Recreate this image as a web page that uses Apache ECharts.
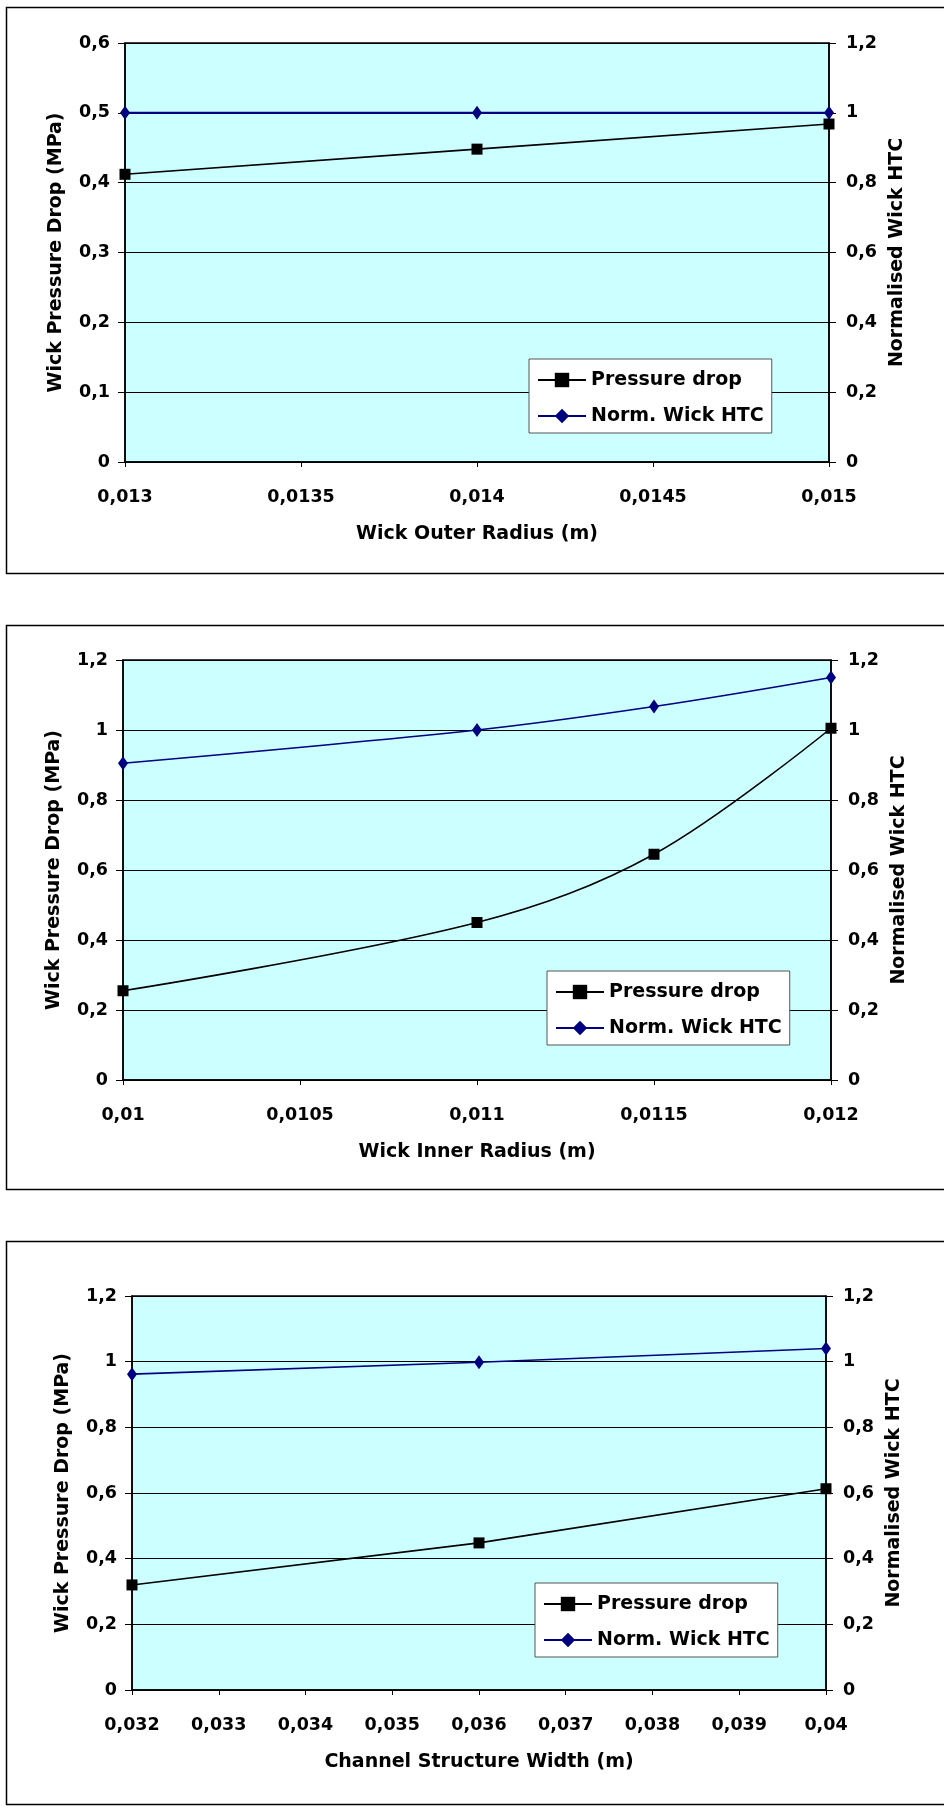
<!DOCTYPE html>
<html><head><meta charset="utf-8">
<script src="https://cdn.jsdelivr.net/npm/echarts@6/dist/echarts.min.js"></script>
<style>html,body{margin:0;padding:0;background:#fff}#c{width:944px;height:1809px}</style>
</head><body><div id="c"></div>
<script>
// ---- data ----
const outerRadius = [0.013, 0.014, 0.015];
const outerPressure = [0.412, 0.448, 0.484];
const outerHTC = [1.0, 1.0, 1.0];

const innerRadius = [0.010, 0.011, 0.0115, 0.012];
const innerPressure = [0.255, 0.450, 0.645, 1.005];
const innerHTC = [0.905, 1.0, 1.067, 1.15];

const channelWidth = [0.032, 0.036, 0.040];
const channelPressure = [0.320, 0.448, 0.613];
const channelHTC = [0.962, 0.998, 1.040];

const xTitles = ['Wick Outer Radius (m)', 'Wick Inner Radius (m)', 'Channel Structure Width (m)'];
const leftTitle = 'Wick Pressure Drop (MPa)';
const rightTitle = 'Normalised Wick HTC';
const seriesNames = ['Pressure drop', 'Norm. Wick HTC'];

const xRanges = [[0.013, 0.015, 0.0005], [0.010, 0.012, 0.0005], [0.032, 0.040, 0.001]];
const leftRanges = [[0, 0.6, 0.1], [0, 1.2, 0.2], [0, 1.2, 0.2]];
const rightRange = [0, 1.2, 0.2];

// ---- layout ----
const FONT = 'DejaVu Sans';
const grids = [
  {left: 125, right: 115, top: 43, height: 419},
  {left: 123, right: 113, top: 660, height: 420},
  {left: 132, right: 118, top: 1296, height: 394}
];
const legendPos = [[529, 359], [547, 971], [535, 1583]];
const borders = [[7, 566], [625, 564], [1241, 563]];

function fmt(v) {
  const s = String(parseFloat(Number(v).toPrecision(6)));
  return s.replace('.', ',');
}

const labelStyle = {color: '#000', fontFamily: FONT, fontWeight: 'bold', fontSize: 17.5};
const nameStyle = {color: '#000', fontFamily: FONT, fontWeight: 'bold', fontSize: 19};

const xAxis = [], yAxis = [], series = [], legend = [], graphic = [];
const datasets = [
  [outerRadius, outerPressure, outerHTC],
  [innerRadius, innerPressure, innerHTC],
  [channelWidth, channelPressure, channelHTC]
];

for (let i = 0; i < 3; i++) {
  const [xmin, xmax, xint] = xRanges[i];
  xAxis.push({
    type: 'value', gridIndex: i, min: xmin, max: xmax, interval: xint,
    name: xTitles[i], nameLocation: 'middle', nameGap: 63, nameTextStyle: nameStyle,
    axisLine: {show: true, onZero: false, lineStyle: {color: '#000', width: 1.5}},
    axisTick: {show: true, inside: false, length: 5, lineStyle: {color: '#000'}},
    axisLabel: Object.assign({formatter: fmt, margin: 26}, labelStyle),
    splitLine: {show: false}
  });
  const [ymin, ymax, yint] = leftRanges[i];
  yAxis.push({
    type: 'value', gridIndex: i, position: 'left', min: ymin, max: ymax, interval: yint,
    name: leftTitle, nameLocation: 'middle', nameGap: 59, nameTextStyle: nameStyle,
    axisLine: {show: true, onZero: false, lineStyle: {color: '#000', width: 1.5}},
    axisTick: {show: true, length: 7, lineStyle: {color: '#000'}},
    axisLabel: Object.assign({formatter: fmt, margin: 15}, labelStyle),
    splitLine: {show: true, lineStyle: {color: '#000', width: 1}}
  });
  yAxis.push({
    type: 'value', gridIndex: i, position: 'right', min: rightRange[0], max: rightRange[1], interval: rightRange[2],
    name: rightTitle, nameLocation: 'middle', nameGap: 59, nameTextStyle: nameStyle,
    axisLine: {show: true, onZero: false, lineStyle: {color: '#000', width: 1.5}},
    axisTick: {show: true, length: 7, lineStyle: {color: '#000'}},
    axisLabel: Object.assign({formatter: fmt, margin: 17}, labelStyle),
    splitLine: {show: false}
  });
  const [xs, pd, htc] = datasets[i];
  series.push({
    name: seriesNames[0], type: 'line', xAxisIndex: i, yAxisIndex: 2 * i,
    data: xs.map((x, k) => [x, pd[k]]),
    smooth: i === 1 ? 0.35 : false, clip: false,
    symbol: 'rect', symbolSize: 11,
    itemStyle: {color: '#000'}, lineStyle: {color: '#000', width: 1.6}, z: 3
  });
  series.push({
    name: seriesNames[1], type: 'line', xAxisIndex: i, yAxisIndex: 2 * i + 1,
    data: xs.map((x, k) => [x, htc[k]]),
    smooth: i === 1 ? 0.35 : false, clip: false,
    symbol: 'diamond', symbolSize: [10, 14],
    itemStyle: {color: '#000080'}, lineStyle: {color: '#000080', width: i === 0 ? 2.2 : 1.6}, z: 3
  });
  legend.push({
    orient: 'vertical', left: legendPos[i][0], top: legendPos[i][1],
    data: seriesNames, selectedMode: false,
    backgroundColor: '#fff', borderColor: '#555', borderWidth: 1,
    padding: [10, 8, 6, 8], itemWidth: 48, itemHeight: 18, itemGap: 14,
    textStyle: {color: '#000', fontFamily: FONT, fontWeight: 'bold', fontSize: 19, lineHeight: 22}
  });
  graphic.push({
    type: 'rect', silent: true, z: 100,
    shape: {x: 6.5, y: borders[i][0] + 0.5, width: 960, height: borders[i][1]},
    style: {fill: null, stroke: '#000', lineWidth: 1.5}
  });
}

const chart = echarts.init(document.getElementById('c'), null, {renderer: 'canvas'});
chart.setOption({
  animation: false,
  backgroundColor: '#fff',
  grid: grids.map(g => Object.assign({show: true, backgroundColor: '#CCFFFF', borderColor: '#000', borderWidth: 1.5}, g)),
  xAxis, yAxis, series, legend, graphic
});
</script></body></html>
